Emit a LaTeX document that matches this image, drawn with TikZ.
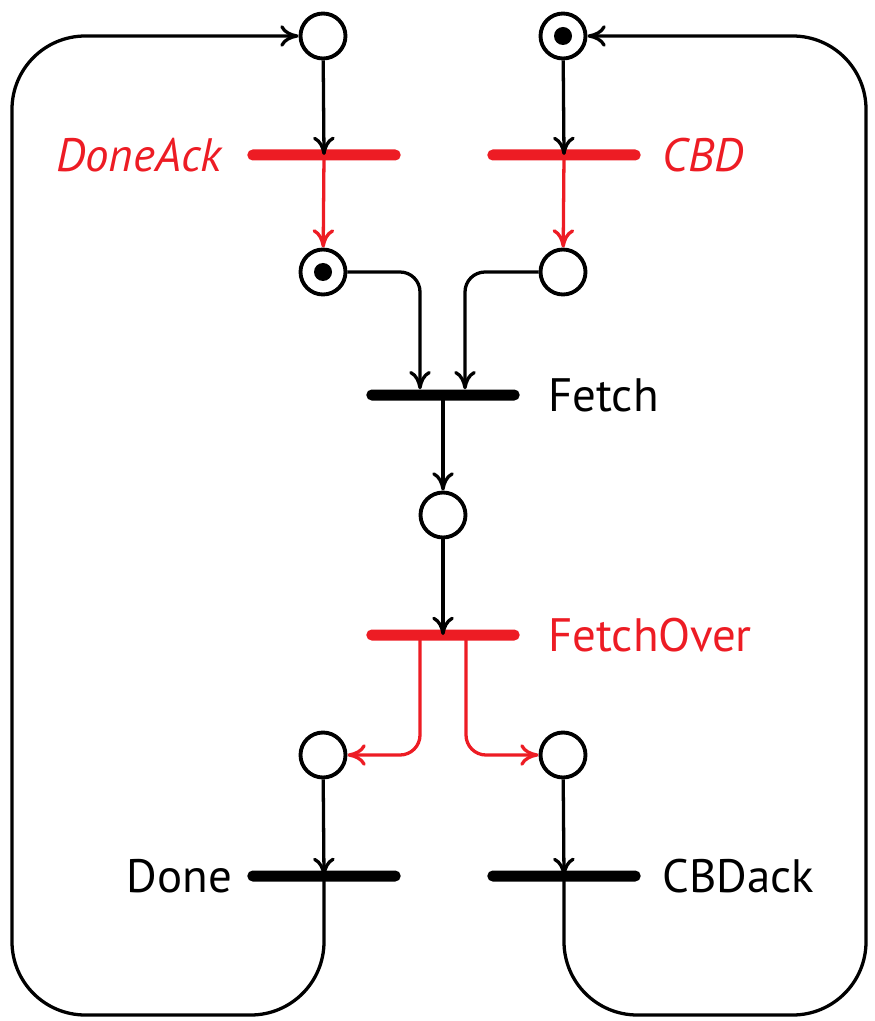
\documentclass[tikz,border=0pt]{standalone}
\usepackage{fontspec}
\setmainfont{PT Sans}
\usetikzlibrary{arrows.meta,positioning}
\definecolor{netred}{RGB}{237,28,36}

\begin{document}
\begin{tikzpicture}[x=0.03cm,y=-0.03cm,
    place/.style={circle,draw,line width=3.3pt,minimum size=1.35cm,inner sep=0pt},
    marked/.style={place,path picture={\fill (path picture bounding box.center) circle (0.27cm);}},
    bar/.style={rectangle,fill,minimum width=4.6cm,minimum height=0.33cm,rounded corners=0.16cm,inner sep=0pt},
    lbl/.style={inner sep=0pt,font=\fontsize{40}{46}\selectfont},
    arc/.style={line width=2.8pt,-{Computer Modern Rightarrow[length=0.55cm,width=0.65cm]}},
    loop/.style={arc,rounded corners=2.2cm}]
    \useasboundingbox (0,0) rectangle (874,1021);

    % places
    \node(p1) [place] at (323,36) {};
    \node(p2) [marked] at (563,36) {};
    \node(p3) [marked] at (323,272) {};
    \node(p4) [place] at (563,272) {};
    \node(p5) [place] at (443,515) {};
    \node(p6) [place] at (323,755) {};
    \node(p7) [place] at (563,755) {};

    % transitions
    \node(doneack) [bar, netred] at (324,155) {};
    \node(cbd) [bar, netred] at (564,155) {};
    \node(fetch) [bar] at (443,395) {};
    \node(fetchover) [bar, netred] at (443,635) {};
    \node(done) [bar] at (324,876) {};
    \node(cbdack) [bar] at (564,876) {};

    \node(doneacklbl) [lbl, netred, left=0.75cm of doneack] {\itshape DoneAck};
    \node(cbdlbl) [lbl, netred, right=0.65cm of cbd] {\itshape CBD};
    \node(fetchlbl) [lbl, right=0.85cm of fetch] {Fetch};
    \node(fetchoverlbl) [lbl, netred, right=0.85cm of fetchover] {FetchOver};
    \node(donelbl) [lbl, left=0.45cm of done] {Done};
    \node(cbdacklbl) [lbl, right=0.65cm of cbdack] {CBDack};

    \coordinate(lbot) at (12,1015);
    \coordinate(rbot) at (866,1015);

    % arcs
    \draw[arc] (p1) -- (doneack.center);
    \draw[arc, netred] (doneack.center) -- (p3);
    \draw[arc] (p2) -- (cbd.center);
    \draw[arc, netred] (cbd.center) -- (p4);
    \draw[arc, rounded corners=0.6cm] (p3.east) -| ([xshift=-0.69cm]fetch.north);
    \draw[arc, rounded corners=0.6cm] (p4.west) -| ([xshift=0.66cm]fetch.north);
    \draw[arc] (fetch.center) -- (p5);
    \draw[arc] (p5) -- (fetchover.center);
    \draw[arc, netred, rounded corners=0.6cm] ([xshift=-0.69cm]fetchover.center) |- (p6.east);
    \draw[arc, netred, rounded corners=0.6cm] ([xshift=0.69cm]fetchover.center) |- (p7.west);
    \draw[arc] (p6) -- (done.center);
    \draw[arc] (p7) -- (cbdack.center);
    \draw[loop] (done.center) |- (lbot) |- (p1.west);
    \draw[loop] (cbdack.center) |- (rbot) |- (p2.east);
  \end{tikzpicture}
\end{document}
